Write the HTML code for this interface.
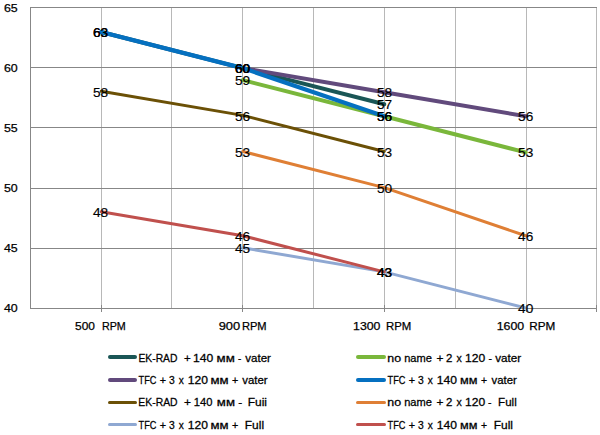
<!DOCTYPE html>
<html><head><meta charset="utf-8"><style>
html,body{margin:0;padding:0;background:#fff;}
body{width:600px;height:435px;overflow:hidden;}
svg{display:block;}
</style></head><body>
<svg width="600" height="435" viewBox="0 0 600 435">
<rect width="600" height="435" fill="#fff"/>
<rect x="101" y="7" width="1" height="302" fill="#b8b8b8"/><rect x="171" y="7" width="1" height="302" fill="#b8b8b8"/><rect x="242" y="7" width="1" height="302" fill="#b8b8b8"/><rect x="313" y="7" width="1" height="302" fill="#b8b8b8"/><rect x="384" y="7" width="1" height="302" fill="#b8b8b8"/><rect x="455" y="7" width="1" height="302" fill="#b8b8b8"/><rect x="526" y="7" width="1" height="302" fill="#b8b8b8"/><rect x="596" y="7" width="1" height="302" fill="#b8b8b8"/><rect x="30" y="7" width="567" height="1" fill="#878787"/><rect x="30" y="67" width="567" height="1" fill="#878787"/><rect x="30" y="127" width="567" height="1" fill="#878787"/><rect x="30" y="188" width="567" height="1" fill="#878787"/><rect x="30" y="248" width="567" height="1" fill="#878787"/><rect x="30" y="308" width="567" height="1" fill="#878787"/><rect x="30" y="7" width="1" height="302" fill="#878787"/><rect x="101" y="305" width="1" height="7" fill="#878787"/><rect x="242" y="305" width="1" height="7" fill="#878787"/><rect x="384" y="305" width="1" height="7" fill="#878787"/><rect x="526" y="305" width="1" height="7" fill="#878787"/><rect x="596" y="305" width="1" height="7" fill="#878787"/>
<polyline points="101.25,31.98 242.75,68.10 384.25,104.22" fill="none" stroke="#1A5656" stroke-width="4.0" stroke-linejoin="round" stroke-linecap="round"/>
<polyline points="242.75,80.14 384.25,116.26 525.75,152.38" fill="none" stroke="#7AB73B" stroke-width="4.0" stroke-linejoin="round" stroke-linecap="round"/>
<polyline points="242.75,68.10 384.25,92.18 525.75,116.26" fill="none" stroke="#614A7C" stroke-width="4.0" stroke-linejoin="round" stroke-linecap="round"/>
<polyline points="101.25,31.98 242.75,68.10 384.25,116.26" fill="none" stroke="#0570C0" stroke-width="4.2" stroke-linejoin="round" stroke-linecap="round"/>
<polyline points="101.25,91.28 242.75,115.36 384.25,151.48" fill="none" stroke="#6B5006" stroke-width="3.0" stroke-linejoin="round" stroke-linecap="round"/>
<polyline points="242.75,151.48 384.25,187.60 525.75,235.76" fill="none" stroke="#DF7F35" stroke-width="3.0" stroke-linejoin="round" stroke-linecap="round"/>
<polyline points="242.75,247.80 384.25,271.88 525.75,308.00" fill="none" stroke="#8FA8D2" stroke-width="3.0" stroke-linejoin="round" stroke-linecap="round"/>
<polyline points="101.25,211.68 242.75,235.76 384.25,271.88" fill="none" stroke="#C0504D" stroke-width="3.0" stroke-linejoin="round" stroke-linecap="round"/>
<g font-family='"Liberation Sans", sans-serif' font-size="12.6" fill="#000" stroke="#000" stroke-width="0.15" text-anchor="middle" class="lab"><text x="100.6" y="37" textLength="15.2" lengthAdjust="spacingAndGlyphs">63</text><text x="242.5" y="73" textLength="15.2" lengthAdjust="spacingAndGlyphs">60</text><text x="384.6" y="109" textLength="15.2" lengthAdjust="spacingAndGlyphs">57</text><text x="242.5" y="85" textLength="15.2" lengthAdjust="spacingAndGlyphs">59</text><text x="384.6" y="121" textLength="15.2" lengthAdjust="spacingAndGlyphs">56</text><text x="525.7" y="157" textLength="15.2" lengthAdjust="spacingAndGlyphs">53</text><text x="242.5" y="73" textLength="15.2" lengthAdjust="spacingAndGlyphs">60</text><text x="384.6" y="97" textLength="15.2" lengthAdjust="spacingAndGlyphs">58</text><text x="525.7" y="121" textLength="15.2" lengthAdjust="spacingAndGlyphs">56</text><text x="100.6" y="37" textLength="15.2" lengthAdjust="spacingAndGlyphs">63</text><text x="242.5" y="73" textLength="15.2" lengthAdjust="spacingAndGlyphs">60</text><text x="384.6" y="121" textLength="15.2" lengthAdjust="spacingAndGlyphs">56</text><text x="100.6" y="97" textLength="15.2" lengthAdjust="spacingAndGlyphs">58</text><text x="242.5" y="121" textLength="15.2" lengthAdjust="spacingAndGlyphs">56</text><text x="384.6" y="157" textLength="15.2" lengthAdjust="spacingAndGlyphs">53</text><text x="242.5" y="157" textLength="15.2" lengthAdjust="spacingAndGlyphs">53</text><text x="384.6" y="193" textLength="15.2" lengthAdjust="spacingAndGlyphs">50</text><text x="525.7" y="241" textLength="15.2" lengthAdjust="spacingAndGlyphs">46</text><text x="242.5" y="253" textLength="15.2" lengthAdjust="spacingAndGlyphs">45</text><text x="384.6" y="277" textLength="15.2" lengthAdjust="spacingAndGlyphs">43</text><text x="525.7" y="313" textLength="15.2" lengthAdjust="spacingAndGlyphs">40</text><text x="100.6" y="217" textLength="15.2" lengthAdjust="spacingAndGlyphs">48</text><text x="242.5" y="241" textLength="15.2" lengthAdjust="spacingAndGlyphs">46</text><text x="384.6" y="277" textLength="15.2" lengthAdjust="spacingAndGlyphs">43</text></g>
<g font-family='"Liberation Sans", sans-serif' font-size="11.5" fill="#000" stroke="#000" stroke-width="0.25"><text x="3.9" y="12" textLength="13.8" lengthAdjust="spacingAndGlyphs">65</text><text x="3.9" y="72" textLength="13.8" lengthAdjust="spacingAndGlyphs">60</text><text x="3.9" y="132" textLength="13.8" lengthAdjust="spacingAndGlyphs">55</text><text x="3.9" y="192" textLength="13.8" lengthAdjust="spacingAndGlyphs">50</text><text x="3.9" y="252" textLength="13.8" lengthAdjust="spacingAndGlyphs">45</text><text x="3.9" y="312" textLength="13.8" lengthAdjust="spacingAndGlyphs">40</text></g>
<g font-family='"Liberation Sans", sans-serif' fill="#000" stroke="#000" stroke-width="0.25"><text x="75.02" y="330" font-size="11.2" textLength="19.95" lengthAdjust="spacingAndGlyphs" xml:space="preserve">500</text><text x="101.92" y="330" font-size="11.2" textLength="23.86" lengthAdjust="spacingAndGlyphs" xml:space="preserve">RPM</text><text x="218.70" y="330" font-size="11.2" textLength="21.51" lengthAdjust="spacingAndGlyphs" xml:space="preserve">900</text><text x="241.89" y="330" font-size="11.2" textLength="24.73" lengthAdjust="spacingAndGlyphs" xml:space="preserve">RPM</text><text x="353.06" y="330" font-size="11.2" textLength="27.42" lengthAdjust="spacingAndGlyphs" xml:space="preserve">1300</text><text x="385.97" y="330" font-size="11.2" textLength="25.27" lengthAdjust="spacingAndGlyphs" xml:space="preserve">RPM</text><text x="496.66" y="330" font-size="11.2" textLength="27.53" lengthAdjust="spacingAndGlyphs" xml:space="preserve">1600</text><text x="529.34" y="330" font-size="11.2" textLength="26.02" lengthAdjust="spacingAndGlyphs" xml:space="preserve">RPM</text></g>
<g font-family='"Liberation Sans", sans-serif' fill="#000" stroke="#000" stroke-width="0.28"><line x1="110.0" y1="357.05" x2="135.0" y2="357.05" stroke="#1A5656" stroke-width="4.0" stroke-linecap="round"/><text x="138.45" y="362" font-size="11.6" textLength="39.04" lengthAdjust="spacingAndGlyphs" xml:space="preserve">EK-RAD</text><text x="183.94" y="362" font-size="11.6" textLength="6.73" lengthAdjust="spacingAndGlyphs" xml:space="preserve">+</text><text x="193.08" y="362" font-size="11.6" textLength="20.19" lengthAdjust="spacingAndGlyphs" xml:space="preserve">140</text><text x="216.58" y="362" font-size="11.6" textLength="18.23" lengthAdjust="spacingAndGlyphs" xml:space="preserve">мм</text><text x="238.06" y="362" font-size="11.6" textLength="3.27" lengthAdjust="spacingAndGlyphs" xml:space="preserve">-</text><text x="245.26" y="362" font-size="11.6" textLength="25.63" lengthAdjust="spacingAndGlyphs" xml:space="preserve">vater</text><line x1="358.0" y1="357.05" x2="384.0" y2="357.05" stroke="#7AB73B" stroke-width="4.0" stroke-linecap="round"/><text x="387.37" y="362" font-size="11.6" textLength="13.85" lengthAdjust="spacingAndGlyphs" xml:space="preserve">no</text><text x="404.16" y="362" font-size="11.6" textLength="27.73" lengthAdjust="spacingAndGlyphs" xml:space="preserve">name</text><text x="436.62" y="362" font-size="11.6" textLength="6.97" lengthAdjust="spacingAndGlyphs" xml:space="preserve">+</text><text x="446.03" y="362" font-size="11.6" textLength="6.35" lengthAdjust="spacingAndGlyphs" xml:space="preserve">2</text><text x="456.43" y="362" font-size="11.6" textLength="5.28" lengthAdjust="spacingAndGlyphs" xml:space="preserve">x</text><text x="464.98" y="362" font-size="11.6" textLength="20.19" lengthAdjust="spacingAndGlyphs" xml:space="preserve">120</text><text x="488.59" y="362" font-size="11.6" textLength="3.48" lengthAdjust="spacingAndGlyphs" xml:space="preserve">-</text><text x="495.26" y="362" font-size="11.6" textLength="25.88" lengthAdjust="spacingAndGlyphs" xml:space="preserve">vater</text><line x1="110.0" y1="380.1" x2="135.0" y2="380.1" stroke="#614A7C" stroke-width="4.0" stroke-linecap="round"/><text x="138.59" y="384" font-size="11.6" textLength="17.86" lengthAdjust="spacingAndGlyphs" xml:space="preserve">TFC</text><text x="159.67" y="384" font-size="11.6" textLength="6.31" lengthAdjust="spacingAndGlyphs" xml:space="preserve">+</text><text x="168.91" y="384" font-size="11.6" textLength="5.75" lengthAdjust="spacingAndGlyphs" xml:space="preserve">3</text><text x="178.79" y="384" font-size="11.6" textLength="5.02" lengthAdjust="spacingAndGlyphs" xml:space="preserve">x</text><text x="187.88" y="384" font-size="11.6" textLength="20.19" lengthAdjust="spacingAndGlyphs" xml:space="preserve">120</text><text x="210.49" y="384" font-size="11.6" textLength="18.12" lengthAdjust="spacingAndGlyphs" xml:space="preserve">мм</text><text x="231.88" y="384" font-size="11.6" textLength="6.25" lengthAdjust="spacingAndGlyphs" xml:space="preserve">+</text><text x="242.26" y="384" font-size="11.6" textLength="25.33" lengthAdjust="spacingAndGlyphs" xml:space="preserve">vater</text><line x1="358.0" y1="380.1" x2="384.0" y2="380.1" stroke="#0570C0" stroke-width="4.0" stroke-linecap="round"/><text x="387.59" y="384" font-size="11.6" textLength="17.86" lengthAdjust="spacingAndGlyphs" xml:space="preserve">TFC</text><text x="408.67" y="384" font-size="11.6" textLength="6.31" lengthAdjust="spacingAndGlyphs" xml:space="preserve">+</text><text x="417.91" y="384" font-size="11.6" textLength="5.75" lengthAdjust="spacingAndGlyphs" xml:space="preserve">3</text><text x="427.79" y="384" font-size="11.6" textLength="5.02" lengthAdjust="spacingAndGlyphs" xml:space="preserve">x</text><text x="436.88" y="384" font-size="11.6" textLength="20.19" lengthAdjust="spacingAndGlyphs" xml:space="preserve">140</text><text x="460.02" y="384" font-size="11.6" textLength="17.45" lengthAdjust="spacingAndGlyphs" xml:space="preserve">мм</text><text x="481.04" y="384" font-size="11.6" textLength="6.07" lengthAdjust="spacingAndGlyphs" xml:space="preserve">+</text><text x="491.51" y="384" font-size="11.6" textLength="25.28" lengthAdjust="spacingAndGlyphs" xml:space="preserve">vater</text><line x1="109.5" y1="402.45" x2="135.5" y2="402.45" stroke="#6B5006" stroke-width="3.0" stroke-linecap="round"/><text x="138.35" y="406" font-size="11.6" textLength="39.25" lengthAdjust="spacingAndGlyphs" xml:space="preserve">EK-RAD</text><text x="184.12" y="406" font-size="11.6" textLength="6.97" lengthAdjust="spacingAndGlyphs" xml:space="preserve">+</text><text x="193.75" y="406" font-size="11.6" textLength="18.64" lengthAdjust="spacingAndGlyphs" xml:space="preserve">140</text><text x="216.89" y="406" font-size="11.6" textLength="18.12" lengthAdjust="spacingAndGlyphs" xml:space="preserve">мм</text><text x="238.27" y="406" font-size="11.6" textLength="3.96" lengthAdjust="spacingAndGlyphs" xml:space="preserve">-</text><text x="247.72" y="406" font-size="11.6" textLength="19.29" lengthAdjust="spacingAndGlyphs" xml:space="preserve">Fuii</text><line x1="357.5" y1="402.45" x2="384.5" y2="402.45" stroke="#DF7F35" stroke-width="3.0" stroke-linecap="round"/><text x="387.37" y="406" font-size="11.6" textLength="13.85" lengthAdjust="spacingAndGlyphs" xml:space="preserve">no</text><text x="404.16" y="406" font-size="11.6" textLength="27.73" lengthAdjust="spacingAndGlyphs" xml:space="preserve">name</text><text x="436.62" y="406" font-size="11.6" textLength="6.97" lengthAdjust="spacingAndGlyphs" xml:space="preserve">+</text><text x="446.03" y="406" font-size="11.6" textLength="6.35" lengthAdjust="spacingAndGlyphs" xml:space="preserve">2</text><text x="456.43" y="406" font-size="11.6" textLength="5.28" lengthAdjust="spacingAndGlyphs" xml:space="preserve">x</text><text x="464.98" y="406" font-size="11.6" textLength="20.19" lengthAdjust="spacingAndGlyphs" xml:space="preserve">120</text><text x="487.94" y="406" font-size="11.6" textLength="3.48" lengthAdjust="spacingAndGlyphs" xml:space="preserve">-</text><text x="498.10" y="406" font-size="11.6" textLength="18.62" lengthAdjust="spacingAndGlyphs" xml:space="preserve">Full</text><line x1="109.5" y1="424.55" x2="135.5" y2="424.55" stroke="#8FA8D2" stroke-width="3.0" stroke-linecap="round"/><text x="138.59" y="429" font-size="11.6" textLength="17.86" lengthAdjust="spacingAndGlyphs" xml:space="preserve">TFC</text><text x="159.67" y="429" font-size="11.6" textLength="6.31" lengthAdjust="spacingAndGlyphs" xml:space="preserve">+</text><text x="168.91" y="429" font-size="11.6" textLength="5.75" lengthAdjust="spacingAndGlyphs" xml:space="preserve">3</text><text x="178.79" y="429" font-size="11.6" textLength="5.02" lengthAdjust="spacingAndGlyphs" xml:space="preserve">x</text><text x="187.88" y="429" font-size="11.6" textLength="20.19" lengthAdjust="spacingAndGlyphs" xml:space="preserve">120</text><text x="210.49" y="429" font-size="11.6" textLength="18.12" lengthAdjust="spacingAndGlyphs" xml:space="preserve">мм</text><text x="231.88" y="429" font-size="11.6" textLength="6.25" lengthAdjust="spacingAndGlyphs" xml:space="preserve">+</text><text x="244.82" y="429" font-size="11.6" textLength="19.28" lengthAdjust="spacingAndGlyphs" xml:space="preserve">Full</text><line x1="357.5" y1="424.55" x2="384.5" y2="424.55" stroke="#C0504D" stroke-width="3.0" stroke-linecap="round"/><text x="387.59" y="429" font-size="11.6" textLength="17.86" lengthAdjust="spacingAndGlyphs" xml:space="preserve">TFC</text><text x="408.67" y="429" font-size="11.6" textLength="6.31" lengthAdjust="spacingAndGlyphs" xml:space="preserve">+</text><text x="417.91" y="429" font-size="11.6" textLength="5.75" lengthAdjust="spacingAndGlyphs" xml:space="preserve">3</text><text x="427.79" y="429" font-size="11.6" textLength="5.02" lengthAdjust="spacingAndGlyphs" xml:space="preserve">x</text><text x="436.88" y="429" font-size="11.6" textLength="20.19" lengthAdjust="spacingAndGlyphs" xml:space="preserve">140</text><text x="460.02" y="429" font-size="11.6" textLength="17.45" lengthAdjust="spacingAndGlyphs" xml:space="preserve">мм</text><text x="481.04" y="429" font-size="11.6" textLength="6.07" lengthAdjust="spacingAndGlyphs" xml:space="preserve">+</text><text x="493.72" y="429" font-size="11.6" textLength="19.28" lengthAdjust="spacingAndGlyphs" xml:space="preserve">Full</text></g>
</svg>
</body></html>
